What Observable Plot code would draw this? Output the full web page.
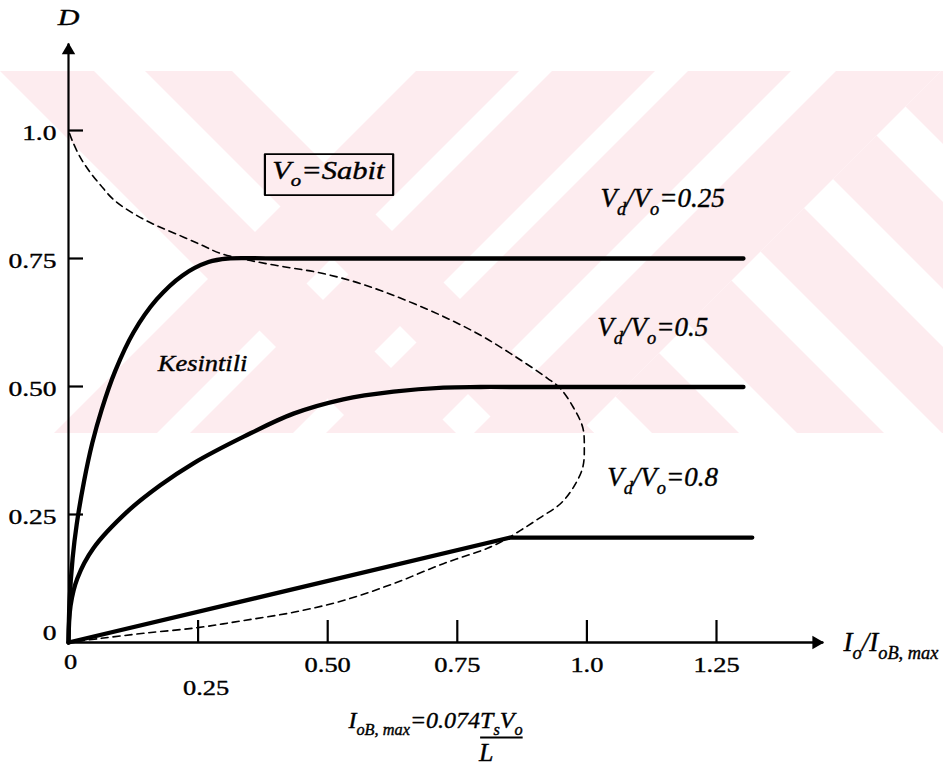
<!DOCTYPE html>
<html><head><meta charset="utf-8">
<script src="https://cdn.jsdelivr.net/npm/d3@7"></script>
<script src="https://cdn.jsdelivr.net/npm/@observablehq/plot@0.6"></script>
<style>
html,body{margin:0;padding:0;background:#fff;}
#chart{position:relative;width:943px;height:769px;overflow:hidden;background:#fff;}
#chart svg{position:absolute;left:0;top:0;background:transparent;}
#chart svg text, #chart svg tspan{font-family:"Liberation Serif","Times New Roman",Tinos,serif !important;}
</style></head><body><div id="chart"></div>
<script>
// ---------- data ----------
// Vd/Vo = 0.25 curve
const c025_x = [0, 0.002, 0.008, 0.016, 0.030, 0.046, 0.064, 0.090, 0.125, 0.170, 0.220, 0.270, 0.307, 0.40, 1.302];
const c025_D = [0, 0.080, 0.165, 0.232, 0.315, 0.390, 0.455, 0.530, 0.605, 0.670, 0.717, 0.743, 0.750, 0.750, 0.750];
// Vd/Vo = 0.5 curve
const c05_x = [0, 0.004, 0.017, 0.048, 0.114, 0.177, 0.241, 0.338, 0.434, 0.530, 0.627, 0.723, 0.795, 0.90, 1.302];
const c05_D = [0, 0.072, 0.125, 0.184, 0.256, 0.307, 0.350, 0.402, 0.447, 0.475, 0.490, 0.498, 0.499, 0.499, 0.499];
// Vd/Vo = 0.8 curve
const c08_x = [0, 0.852, 1.319];
const c08_D = [0, 0.205, 0.205];
// boundary (dashed)
const b_x = [0.002, 0.0077, 0.023, 0.042, 0.062, 0.087, 0.125, 0.164, 0.210, 0.255, 0.293, 0.351, 0.415, 0.480, 0.544, 0.602, 0.666, 0.731, 0.795, 0.858, 0.924, 0.949, 0.974, 0.992, 0.995, 0.992, 0.974, 0.949, 0.910, 0.872, 0.839, 0.808, 0.723, 0.627, 0.530, 0.434, 0.338, 0.249, 0.145, 0.062, 0];
const b_D = [0.994, 0.979, 0.947, 0.918, 0.893, 0.865, 0.838, 0.817, 0.797, 0.777, 0.760, 0.746, 0.734, 0.723, 0.707, 0.6875, 0.662, 0.633, 0.600, 0.561, 0.516, 0.496, 0.459, 0.420, 0.381, 0.342, 0.303, 0.271, 0.244, 0.219, 0.199, 0.184, 0.154, 0.115, 0.082, 0.059, 0.043, 0.029, 0.018, 0.008, 0];

// ticks
const xTicks = [0.25, 0.5, 0.75, 1.0, 1.25];
const xTickLabels = ["0.25", "0.50", "0.75", "1.0", "1.25"];
const yTicks = [0.25, 0.5, 0.75, 1.0];
const yTickLabels = ["0.25", "0.50", "0.75", "1.0"];
const originLabel = "0";

// texts
const curveLabels = ["V_{d}/V_{o}=0.25", "V_{d}/V_{o}=0.5", "V_{d}/V_{o}=0.8"];
const curveLabelX = [1.146, 1.127, 1.146];
const curveLabelD = [0.867, 0.615, 0.322];
const yTitle = "D";
const xTitle = "I_{o}/I_{oB, max}";
const regionLabel = "Kesintili";
const boxLabel = "V_{o}=Sabit";
const formulaTop = "I_{oB, max}=0.074[T_{s}V_{o}]";
const formulaBottom = "L";

// annotation anchor points (data units)
const axisEnd = {x: 1.456, D: 1.17};
const yTitlePos = {x: 0, D: 1.221};
const xTitlePos = {x: 1.495, D: 0};
const regionPos = {x: 0.2585, D: 0.545};
const boxPos = {x: 0.5015, D: 0.92};
const formulaTopPos = {x: 0.540, D: -0.152};
const formulaBottomPos = {x: 0.806, D: -0.215};

// ---------- faint background watermark of the scanned page (decoration only) ----------
const wm = {top: 71, bottom: 433, color: "#fdecef",
  back: [[0, 94], [145, 232]],                               // "\" stripes, offsets at the top edge
  backLower: [[145, 232], [290, 377], [435, 522], [580, 667], [725, 812], [870, 957]], // "\" stripes right of the "/" band
  fwd: [[416, 519], [552, 655], [688, 791], [836, 941]]};    // "/" stripes, offsets at the top edge
{
  const h = wm.bottom - wm.top;
  const bg = d3.create("svg").attr("width", 943).attr("height", 769);
  const defs = bg.append("defs");
  defs.append("clipPath").attr("id", "wmclip").append("rect").attr("x", 0).attr("y", wm.top).attr("width", 943).attr("height", h);
  const edge = wm.fwd[wm.fwd.length - 1][0] + 105; // right edge of the "/" band at the top
  defs.append("clipPath").attr("id", "wmclip2").append("polygon")
    .attr("points", `${edge},${wm.top} 943,${wm.top} 943,${wm.bottom} ${edge - h},${wm.bottom}`);
  const g = bg.append("g").attr("fill", wm.color).attr("clip-path", "url(#wmclip)");
  const band = (a, b, dir) => `${a},${wm.top} ${b},${wm.top} ${b + dir * h},${wm.bottom} ${a + dir * h},${wm.bottom}`;
  wm.back.forEach(([a, b]) => g.append("polygon").attr("points", band(a, b, 1)));
  wm.fwd.forEach(([a, b]) => g.append("polygon").attr("points", band(a, b, -1)));
  const g2 = g.append("g").attr("clip-path", "url(#wmclip2)");
  wm.backLower.forEach(([a, b]) => g2.append("polygon").attr("points", band(a, b, 1)));
  document.getElementById("chart").appendChild(bg.node());
}

// ---------- build tables ----------
const toRows = (xs, ds, name) => xs.map((x, i) => ({x, D: ds[i], name}));
const solidCurved = [...toRows(c025_x, c025_D, "0.25"), ...toRows(c05_x, c05_D, "0.5")];
const solidStraight = toRows(c08_x, c08_D, "0.8");
const boundary = toRows(b_x, b_D, "boundary");
const curveLabelRows = curveLabels.map((t, i) => ({t, x: curveLabelX[i], D: curveLabelD[i]}));

const serif = "Liberation Serif";
const T = (data, o) => Plot.text(data, {fontFamily: serif, fill: "#000", stroke: "#000", strokeWidth: 0.4, ...o});

const plot = Plot.plot({
  width: 943, height: 769,
  marginLeft: 68, marginRight: 943 - 68 - 518.4 * 1.6, marginTop: 130, marginBottom: 127,
  x: {domain: [0, 1.6]},
  y: {domain: [0, 1]},
  style: {background: "transparent", color: "#000"},
  marks: [
    Plot.axisX(xTicks, {tickSize: -22, strokeWidth: 2.2, tickFormat: () => "", label: null}),
    Plot.axisY(yTicks, {tickSize: -15, strokeWidth: 2.2, tickFormat: () => "", label: null}),
    Plot.link([0], {x1: 0, y1: 0, x2: axisEnd.x, y2: 0, strokeWidth: 2.4, stroke: "#000"}),
    Plot.link([0], {x1: 0, y1: 0, x2: 0, y2: axisEnd.D, strokeWidth: 2.2, stroke: "#000"}),
    Plot.dot([0], {x: axisEnd.x, y: 0, symbol: "triangle", rotate: 90, r: 5, dx: -7, fill: "#000", stroke: "none"}),
    Plot.dot([0], {x: 0, y: axisEnd.D, symbol: "triangle", r: 5, dy: 7, fill: "#000", stroke: "none"}),
    Plot.line(boundary, {x: "x", y: "D", curve: "catmull-rom", stroke: "#000", strokeWidth: 1.6, strokeDasharray: "7,5"}),
    Plot.line(solidCurved, {x: "x", y: "D", z: "name", curve: "catmull-rom", stroke: "#000", strokeWidth: 4.3, strokeLinecap: "round"}),
    Plot.line(solidStraight, {x: "x", y: "D", curve: "linear", stroke: "#000", strokeWidth: 4.3, strokeLinecap: "round", strokeLinejoin: "round"}),
    T(xTicks.slice(1), {x: d => d, y: 0, text: (d, i) => xTickLabels[i + 1], dy: 22, fontSize: 22, className: "sx120"}),
    T([xTicks[0]], {x: d => d, y: 0, text: () => xTickLabels[0], dy: 45, dx: 8, fontSize: 22, className: "sx120"}),
    T([0], {x: 0, y: 0, text: () => originLabel, dy: 19, dx: 2, fontSize: 22, className: "sx120"}),
    T(yTicks, {x: 0, y: d => d, text: (d, i) => yTickLabels[i], dx: -12, dy: 2, textAnchor: "end", fontSize: 22, className: "sx125"}),
    T([0], {x: 0, y: 0, text: () => originLabel, dx: -12, dy: -10, textAnchor: "end", fontSize: 22, className: "sx125"}),
    T([yTitle], {x: yTitlePos.x, y: yTitlePos.D, text: d => d, fontSize: 24, fontStyle: "italic", className: "sx125"}),
    T([xTitle], {x: xTitlePos.x, y: xTitlePos.D, text: d => d, textAnchor: "start", fontSize: 27, fontStyle: "italic"}),
    T(curveLabelRows, {x: "x", y: "D", text: "t", fontSize: 27, fontStyle: "italic"}),
    T([regionLabel], {x: regionPos.x, y: regionPos.D, text: d => d, fontSize: 23, fontStyle: "italic", className: "sx115"}),
    T([boxLabel], {x: boxPos.x, y: boxPos.D, text: d => d, fontSize: 25, fontStyle: "italic", className: "sx122box"}),
    T([formulaTop], {x: formulaTopPos.x, y: formulaTopPos.D, text: d => d, textAnchor: "start", fontSize: 24, fontStyle: "italic"}),
    T([formulaBottom], {x: formulaBottomPos.x, y: formulaBottomPos.D, text: d => d, fontSize: 26, fontStyle: "italic"})
  ]
});
document.getElementById("chart").appendChild(plot);

// ---------- rich text: subscripts, horizontal stretch, fraction bar, box ----------
const SVGNS = "http://www.w3.org/2000/svg";
const fractions = [];
plot.querySelectorAll("text").forEach(t => {
  const s = t.textContent;
  if (!/_\{|\[/.test(s)) return;
  const fs = parseFloat(getComputedStyle(t).fontSize);
  const subFs = fs * 0.68, shift = fs * 0.28;
  const tokens = [];
  let i = 0, ul = false;
  while (i < s.length) {
    if (s[i] === "[") { ul = true; i++; continue; }
    if (s[i] === "]") { ul = false; i++; continue; }
    if (s[i] === "_" && s[i + 1] === "{") {
      const j = s.indexOf("}", i);
      tokens.push({text: s.slice(i + 2, j), sub: true, ul});
      i = j + 1; continue;
    }
    let j = i;
    while (j < s.length && !(s[j] === "_" && s[j + 1] === "{") && s[j] !== "[" && s[j] !== "]") j++;
    tokens.push({text: s.slice(i, j), sub: false, ul});
    i = j;
  }
  t.textContent = "";
  let prevSub = false;
  const ulSpans = [];
  tokens.forEach(tok => {
    const ts = document.createElementNS(SVGNS, "tspan");
    ts.textContent = tok.text;
    if (tok.sub) {
      ts.setAttribute("font-size", subFs);
      if (!prevSub) ts.setAttribute("dy", shift);
    } else if (prevSub) ts.setAttribute("dy", -shift);
    prevSub = tok.sub;
    t.appendChild(ts);
    if (tok.ul) ulSpans.push(ts);
  });
  if (ulSpans.length) fractions.push({t, ulSpans, fs});
});
plot.querySelectorAll("g[class^='sx'] text").forEach(t => {
  const sx = +t.parentNode.getAttribute("class").match(/sx(\d+)/)[1] / 100;
  const bb = t.getBBox();
  const a = getComputedStyle(t).textAnchor;
  const x0 = a === "end" ? bb.x + bb.width : a === "middle" ? bb.x + bb.width / 2 : bb.x;
  const prev = t.getAttribute("transform") || "";
  t.setAttribute("transform", `${prev} translate(${x0},0) scale(${sx},1) translate(${-x0},0)`);
});
fractions.forEach(({t, ulSpans, fs}) => {
  const a = ulSpans[0], b = ulSpans[ulSpans.length - 1];
  const x1 = a.getStartPositionOfChar(0).x;
  const x2 = b.getEndPositionOfChar(b.textContent.length - 1).x;
  const yb = a.getStartPositionOfChar(0).y + fs * 0.40;
  const ln = document.createElementNS(SVGNS, "line");
  ln.setAttribute("x1", x1); ln.setAttribute("x2", x2);
  ln.setAttribute("y1", yb); ln.setAttribute("y2", yb);
  ln.setAttribute("stroke", "#000"); ln.setAttribute("stroke-width", 2);
  if (t.getAttribute("transform")) ln.setAttribute("transform", t.getAttribute("transform"));
  t.parentNode.appendChild(ln);
});
plot.querySelectorAll("g[class$='box'] text").forEach(t => {
  const bb = t.getBBox();
  const r = document.createElementNS(SVGNS, "rect");
  r.setAttribute("x", bb.x - 6); r.setAttribute("y", bb.y - 3);
  r.setAttribute("width", bb.width + 12); r.setAttribute("height", bb.height + 8);
  r.setAttribute("fill", "none"); r.setAttribute("stroke", "#000"); r.setAttribute("stroke-width", 1.8);
  if (t.getAttribute("transform")) r.setAttribute("transform", t.getAttribute("transform"));
  t.parentNode.insertBefore(r, t);
});
</script>
</body></html>
